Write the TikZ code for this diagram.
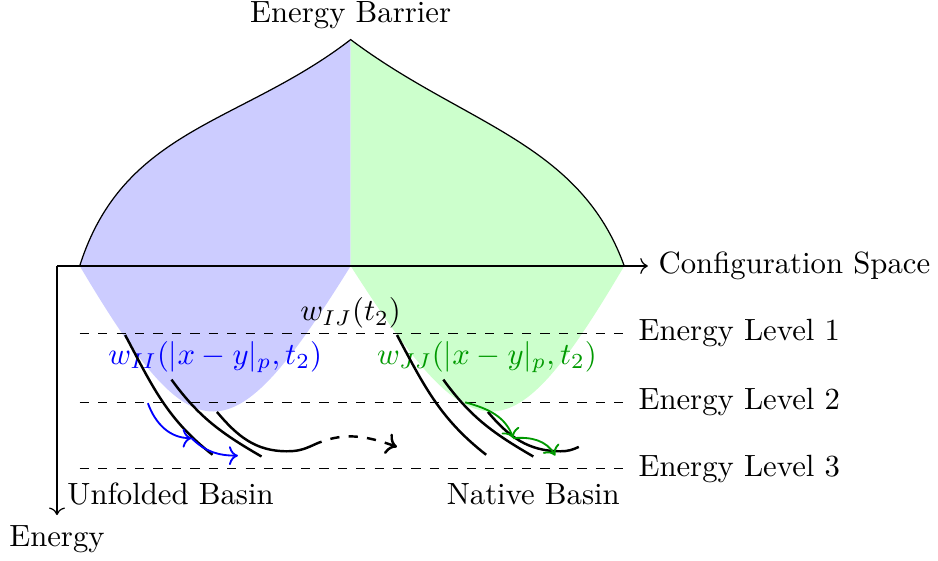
\documentclass[tikz,border=0pt]{standalone}
\usetikzlibrary{arrows.meta,positioning,calc}

\begin{document}
\begin{tikzpicture}[
  unfolded/.style={fill=blue!20},
  native/.style={fill=green!20},
  axis/.style={->},
  levelline/.style={dashed},
  track/.style={thick},
  hop/.style={->, semithick},
  bluehop/.style={hop, blue},
  greenhop/.style={hop, green!60!black},
  jump/.style={->, thick, dashed},
]
\useasboundingbox (-0.652,-3.375) rectangle (10.08,3.043);

% basins under the barrier
\fill[unfolded] (0.26,0) .. controls (0.76,1.58) and (2.1,1.62) .. (3.36,2.59)
  -- (3.36,0) .. controls (1.98,-2.22) and (1.58,-2.22) .. (0.26,0) -- cycle;
\fill[native] (3.36,2.59) .. controls (4.65,1.62) and (5.98,1.42) .. (6.49,0)
  .. controls (5.18,-2.22) and (4.78,-2.22) .. (3.36,0) -- cycle;

% barrier outline
\coordinate (peak) at (3.36,2.59);
\draw (0.26,0) .. controls (0.76,1.58) and (2.1,1.62) .. (peak)
  .. controls (4.65,1.62) and (5.98,1.42) .. (6.49,0);
\node[above=0pt of peak] (barrier) {Energy Barrier};

% axes
\coordinate (origin) at (0,0);
\coordinate (xend) at (6.76,0);
\coordinate (yend) at (0,-2.85);
\draw[axis] (origin) -- (xend) node[right] (config) {Configuration Space};
\draw[axis] (origin) -- (yend) node[below] (energy) {Energy};

% energy levels
\coordinate (l1a) at (0.26,-0.77);
\coordinate (l1b) at (6.53,-0.77);
\coordinate (l2a) at (0.26,-1.56);
\coordinate (l2b) at (6.53,-1.56);
\coordinate (l3a) at (0.26,-2.32);
\coordinate (l3b) at (6.53,-2.32);
\draw[levelline] (l1a) -- (l1b) node[right] (lvl1) {Energy Level 1};
\draw[levelline] (l2a) -- (l2b) node[right] (lvl2) {Energy Level 2};
\draw[levelline] (l3a) -- (l3b) node[right] (lvl3) {Energy Level 3};

% labels
\node (wij) at (3.36,-0.54) {$w_{IJ}(t_2)$};
\node[blue] (wii) at (1.81,-1.04) {$w_{II}(|x-y|_p,t_2)$};
\node[green!60!black] (wjj) at (4.92,-1.04) {$w_{JJ}(|x-y|_p,t_2)$};
\node (unfold) at (1.30,-2.61) {Unfolded Basin};
\node (nat) at (5.45,-2.61) {Native Basin};

% unfolded basin tracks
\draw[track] (0.78,-0.79) to[out=-62,in=142] (1.78,-2.16);
\draw[track] (1.31,-1.30) to[out=-54,in=150] (2.34,-2.18);
\draw[track] (1.83,-1.67) to[out=-50,in=180] (2.63,-2.12) to[out=0,in=-155] (2.93,-2.05);

% native basin tracks
\draw[track] (3.89,-0.79) to[out=-62,in=142] (4.91,-2.16);
\draw[track] (4.42,-1.30) to[out=-54,in=150] (5.45,-2.18);
\draw[track] (4.93,-1.67) to[out=-50,in=180] (5.76,-2.12) to[out=0,in=-155] (5.97,-2.07);

% transitions
\coordinate (ua) at (1.04,-1.57);
\coordinate (ub) at (1.54,-1.97);
\coordinate (uc) at (2.07,-2.17);
\draw[bluehop] (ua) to[out=-70,in=180] (ub);
\draw[bluehop] (ub) to[out=-45,in=180] (uc);

\coordinate (na) at (4.67,-1.56);
\coordinate (nb) at (5.22,-1.97);
\coordinate (nc) at (5.70,-2.17);
\draw[greenhop] (na) to[out=-15,in=110] (nb);
\draw[greenhop] (nb) to[out=5,in=120] (nc);

\coordinate (ja) at (2.93,-2.05);
\coordinate (jb) at (3.89,-2.07);
\draw[jump] (ja) to[out=25,in=160] (jb);

\end{tikzpicture}
\end{document}
